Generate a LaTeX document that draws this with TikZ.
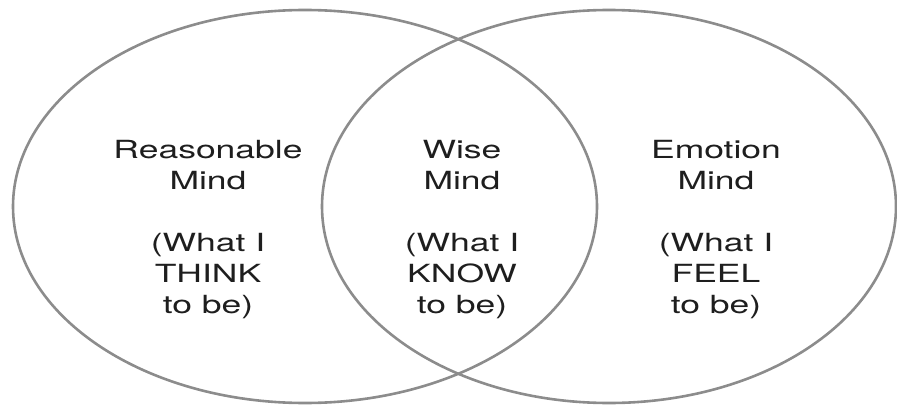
\documentclass[tikz,border=0pt]{standalone}
\usepackage{fontspec}
\newfontfamily\vennfont[FakeStretch=1.42]{TeX Gyre Heros}
\usetikzlibrary{positioning}
\definecolor{ringgray}{RGB}{140, 140, 140}
\definecolor{inkblack}{RGB}{30, 30, 30}

\begin{document}
\begin{tikzpicture}[
  x=1pt, y=1pt,
  ring/.style={
    draw=ringgray,
    line width=2.6pt
  },
  mindlabel/.style={
    align=center,
    text=inkblack,
    inner sep=0pt,
    font=\vennfont\fontsize{25}{31}\selectfont
  }
]

  \useasboundingbox (0,0) rectangle (897,405);

  % The two minds
  \draw[ring] (305,198.5) ellipse [x radius=292, y radius=196.5];
  \draw[ring] (609,198.5) ellipse [x radius=287, y radius=196.5];

  % Labels
  \node[mindlabel] (reason) at (208,175) {Reasonable\\Mind\\[31pt](What I\\THINK\\to be)};
  \node[mindlabel] (wise) at (462,175) {Wise\\Mind\\[31pt](What I\\KNOW\\to be)};
  \node[mindlabel] (emotion) at (716,175) {Emotion\\Mind\\[31pt](What I\\FEEL\\to be)};

\end{tikzpicture}
\end{document}
